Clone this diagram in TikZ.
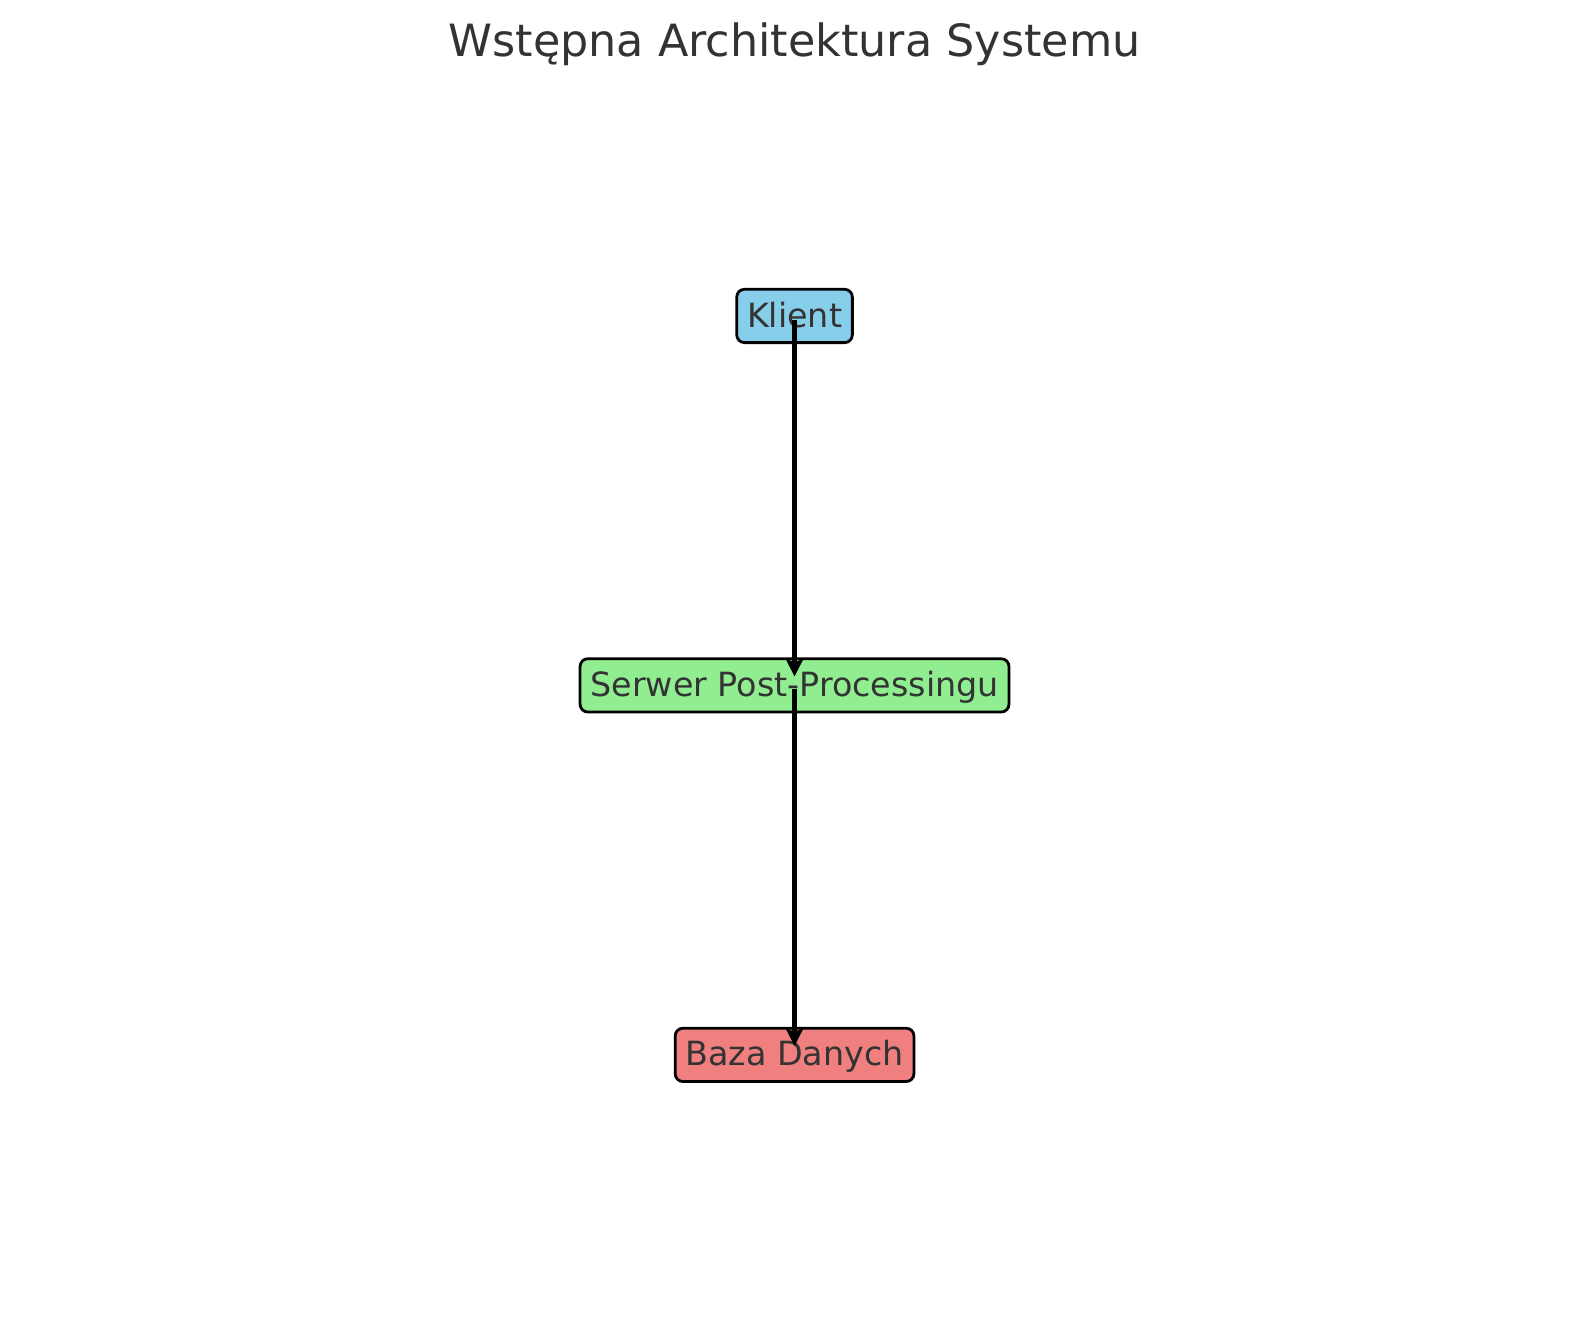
\documentclass[tikz,border=0pt]{standalone}
\usepackage{fontspec}
\setmainfont{DejaVu Sans}
\usetikzlibrary{arrows.meta}
\usetikzlibrary{positioning}
\definecolor{skyblue}{HTML}{87CEEB}
\definecolor{lightgreen}{HTML}{90EE90}
\definecolor{lightcoral}{HTML}{F08080}
\definecolor{textgray}{HTML}{333333}

\begin{document}
\begin{tikzpicture}[
    thick,
    font=\fontsize{12}{14}\selectfont
]
\tikzset{
    boxnode/.style = {rectangle, rounded corners=2.8pt, draw=black, line width=1pt,
        text=textgray, inner xsep=3.7pt, inner ysep=4.2pt,
        text height=9.4pt, text depth=1.4pt},
    boxb/.style = {boxnode, fill=skyblue},
    boxg/.style = {boxnode, fill=lightgreen},
    boxr/.style = {boxnode, fill=lightcoral},
    edgea/.style = {-{Stealth[length=6.5pt,width=6.5pt,inset=1.5pt]}, line width=2pt, black,
        shorten <=1.3pt, shorten >=3.2pt}
}
\useasboundingbox (0,0) rectangle (20.105,16.727);
\node[text=textgray, anchor=base, font=\fontsize{16}{19}\selectfont] at (10.053,16.018) (title) {Wstępna Architektura Systemu};
\node[boxb] at (10.053,12.729) (k) {Klient};
\node[boxg] at (10.053,8.055) (s) {Serwer Post-Processingu};
\node[boxr] at (10.053,3.380) (b) {Baza Danych};
\draw[edgea] (k.center) -- (s.center);
\draw[edgea] (s.center) -- (b.center);
\end{tikzpicture}
\end{document}
